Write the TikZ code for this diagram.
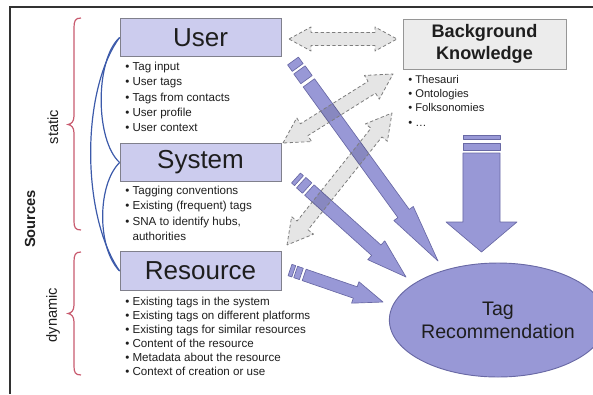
\documentclass[tikz,border=0pt]{standalone}
\usepackage{fontspec}
\setmainfont{Liberation Sans}
\usetikzlibrary{calc,shapes.geometric}
\definecolor{boxfill}{RGB}{204,204,238}
\definecolor{boxdraw}{RGB}{128,128,140}
\definecolor{arrfill}{RGB}{152,152,214}
\definecolor{arrdraw}{RGB}{105,105,165}
\definecolor{bkfill}{RGB}{236,236,236}
\definecolor{bkdraw}{RGB}{150,150,150}
\definecolor{grayline}{RGB}{125,125,125}
\definecolor{bracered}{RGB}{200,90,110}
\definecolor{curveblue}{RGB}{60,90,170}
\definecolor{framec}{RGB}{50,50,50}
\definecolor{textc}{RGB}{30,30,30}

% fat arrow: style, start, tip, shaft half width, head half width, head length
\newcommand{\fatarrow}[6]{%
  \path ($(#3)!#6!(#2)$) coordinate (fahd);
  \draw[#1] ($(#2)!#4!90:(#3)$) -- ($(fahd)!#4!90:(#3)$) -- ($(fahd)!#5!90:(#3)$) -- (#3)
    -- ($(fahd)!#5!-90:(#3)$) -- ($(fahd)!#4!-90:(#3)$) -- ($(#2)!#4!-90:(#3)$) -- cycle;}
% stripe: style, start, tip, half width, from, to
\newcommand{\stripe}[6]{%
  \path ($(#2)!#5!(#3)$) coordinate (sta) ($(#2)!#6!(#3)$) coordinate (stb);
  \draw[#1] ($(sta)!#4!90:(#3)$) -- ($(stb)!#4!90:(#3)$) -- ($(stb)!#4!-90:(#3)$) -- ($(sta)!#4!-90:(#3)$) -- cycle;}
% double arrow: style, end a, end b, shaft half width, head half width, head length
\newcommand{\dblarrow}[6]{%
  \path ($(#2)!#6!(#3)$) coordinate (dha) ($(#3)!#6!(#2)$) coordinate (dhb);
  \draw[#1] (#2) -- ($(dha)!#5!90:(#3)$) -- ($(dha)!#4!90:(#3)$) -- ($(dhb)!#4!90:(#3)$)
    -- ($(dhb)!#5!90:(#3)$) -- (#3) -- ($(dhb)!#5!-90:(#3)$) -- ($(dhb)!#4!-90:(#3)$)
    -- ($(dha)!#4!-90:(#3)$) -- ($(dha)!#5!-90:(#3)$) -- cycle;}

\begin{document}
\begin{tikzpicture}[x=0.75pt,y=-0.75pt,
  srcbox/.style={draw=boxdraw, fill=boxfill, line width=0.6pt, minimum width=120.75pt,
     minimum height=29pt, inner sep=0pt, font=\fontsize{19.5}{22}\selectfont, text=textc},
  bkbox/.style={draw=bkdraw, fill=bkfill, line width=0.6pt, minimum width=122.25pt,
     minimum height=37.5pt, inner sep=0pt, align=center,
     font=\fontsize{13.6}{16.5}\selectfont\bfseries, text=textc},
  recnode/.style={ellipse, draw=arrdraw, fill=arrfill, line width=0.7pt, minimum width=142.5pt,
     minimum height=85.5pt, inner sep=0pt, align=center,
     font=\fontsize{14.7}{17.3}\selectfont, text=textc},
  listtext/.style={align=left, inner sep=0pt, anchor=north west, text=textc},
  parrow/.style={fill=arrfill, draw=arrdraw, line width=0.5pt, line join=round},
  garrow/.style={fill=black, fill opacity=0.1, draw=grayline, dash pattern=on 2.5pt off 1.8pt,
     line width=0.6pt, line join=round},
  bluecurve/.style={draw=curveblue, line width=0.9pt},
  bracestyle/.style={draw=bracered, line width=0.9pt},
  sidelabel/.style={rotate=90, inner sep=0pt, font=\fontsize{11}{13}\selectfont, text=textc}]
\useasboundingbox (0,0) rectangle (593,394);

% frame
\draw[framec, line width=0.8pt] (593,7) -- (10,7) -- (10,394);

% ellipse and background knowledge box
\node[recnode] (tagrec) at (498,320) {Tag\\Recommendation};
\node[bkbox] (bk) at (484.5,44) {Background\\Knowledge};

% arrow end points
\coordinate (ua) at (293,61);   \coordinate (ut) at (438,261);
\coordinate (sa) at (296,178);  \coordinate (st) at (406,277);
\coordinate (ra) at (290,270);  \coordinate (rt) at (383,302);
\coordinate (ba) at (481.5,135); \coordinate (bt) at (481.5,252);

% purple arrows: user -> tag recommendation
\stripe{parrow}{ua}{ut}{5pt}{0pt}{6pt}
\stripe{parrow}{ua}{ut}{5.25pt}{8.25pt}{17.25pt}
\path ($(ua)!20.25pt!(ut)$) coordinate (ums);
\fatarrow{parrow}{ums}{ut}{5.25pt}{9pt}{44pt}
% system -> tag recommendation
\stripe{parrow}{sa}{st}{5pt}{0pt}{3pt}
\stripe{parrow}{sa}{st}{5.25pt}{5.25pt}{11.25pt}
\path ($(sa)!13.5pt!(st)$) coordinate (sms);
\fatarrow{parrow}{sms}{st}{5.25pt}{9.5pt}{30pt}
% resource -> tag recommendation
\stripe{parrow}{ra}{rt}{4.5pt}{0pt}{3pt}
\stripe{parrow}{ra}{rt}{4.5pt}{4.5pt}{9pt}
\path ($(ra)!11.25pt!(rt)$) coordinate (rms);
\fatarrow{parrow}{rms}{rt}{4.5pt}{8.5pt}{22pt}
% background knowledge -> tag recommendation
\stripe{parrow}{ba}{bt}{13.9pt}{0pt}{3pt}
\stripe{parrow}{ba}{bt}{13.9pt}{6pt}{11.25pt}
\path ($(ba)!13.5pt!(bt)$) coordinate (bms);
\fatarrow{parrow}{bms}{bt}{13.9pt}{26.6pt}{22.5pt}

% gray dashed double arrows
\coordinate (g1a) at (289,39);  \coordinate (g1b) at (397,39);
\coordinate (g2a) at (283,143); \coordinate (g2b) at (393,74);
\coordinate (g3a) at (287,245); \coordinate (g3b) at (392,113);
\dblarrow{garrow}{g1a}{g1b}{4.9pt}{9pt}{16.5pt}
\dblarrow{garrow}{g2a}{g2b}{5.25pt}{10.5pt}{18.75pt}
\dblarrow{garrow}{g3a}{g3b}{5.25pt}{10.5pt}{18.75pt}

% source boxes
\node[srcbox] (user) at (200.5,37.5) {User};
\node[srcbox] (system) at (200.5,162.5) {System};
\node[srcbox] (resource) at (200.5,271) {Resource};

% lists
\node[listtext, font=\fontsize{8.7}{11.4}\selectfont] (userlist) at (125,62)
  {• Tag input\\• User tags\\• Tags from contacts\\• User profile\\• User context};
\node[listtext, font=\fontsize{8.7}{11.4}\selectfont] (syslist) at (125,186)
  {• Tagging conventions\\• Existing (frequent) tags\\• SNA to identify hubs,\\\hphantom{• }authorities};
\node[listtext, font=\fontsize{8.7}{10.5}\selectfont] (reslist) at (125,297)
  {• Existing tags in the system\\• Existing tags on different platforms\\• Existing tags for similar resources\\• Content of the resource\\• Metadata about the resource\\• Context of creation or use};
\node[listtext, font=\fontsize{8.4}{10.7}\selectfont] (bklist) at (408,75)
  {• Thesauri\\• Ontologies\\• Folksonomies\\• \ldots};

% blue curves linking the sources
\draw[bluecurve] (user.west) .. controls (95,60) and (95,140) .. (system.west);
\draw[bluecurve] (user.west) .. controls (81,90) and (81,215) .. (resource.west);
\draw[bluecurve] (system.west) .. controls (97,185) and (97,248) .. (resource.west);

% braces
\draw[bracestyle] (81,18) .. controls (75,18) and (74,21) .. (74,28) -- (74,116)
  .. controls (74,122) and (71,124) .. (68,124.5) .. controls (71,125) and (74,127) .. (74,133)
  -- (74,221) .. controls (74,227) and (75,230) .. (81,230);
\draw[bracestyle] (81,252) .. controls (75,252) and (74,255) .. (74,262) -- (74,305)
  .. controls (74,311) and (71,313) .. (68,313.5) .. controls (71,314) and (74,316) .. (74,322)
  -- (74,366) .. controls (74,372) and (75,375) .. (81,375);

% side labels
\node[sidelabel] (static) at (53,127) {static};
\node[sidelabel] (dynamic) at (53,315) {dynamic};
\node[sidelabel, font=\fontsize{11}{13}\selectfont\bfseries] (sources) at (30,219) {Sources};
\end{tikzpicture}
\end{document}
